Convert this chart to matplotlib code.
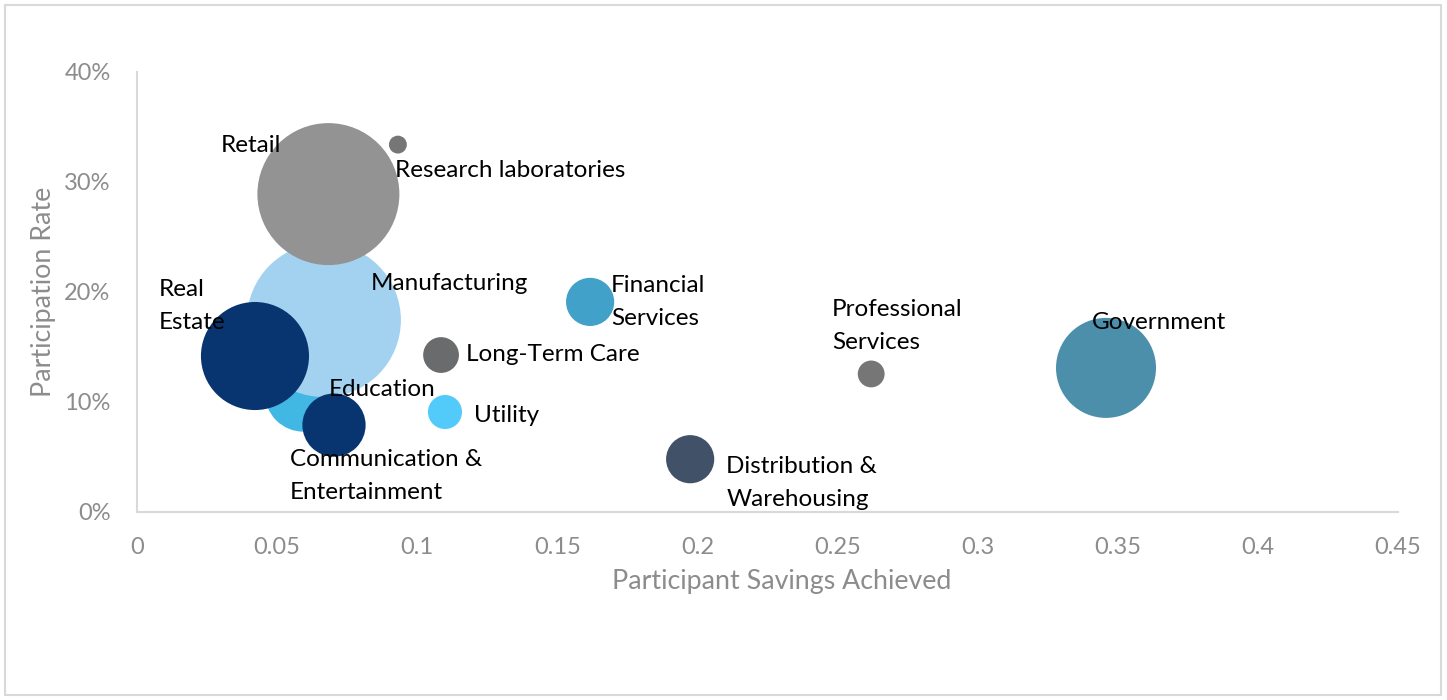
import matplotlib.pyplot as plt
from matplotlib.patches import Rectangle
from matplotlib.ticker import PercentFormatter

# Данные (порядок = порядок отрисовки, снизу вверх)
industries = ['Education', 'Manufacturing', 'Communication &\nEntertainment', 'Real\nEstate',
              'Retail', 'Research laboratories', 'Long-Term Care', 'Utility',
              'Financial\nServices', 'Distribution &\nWarehousing', 'Professional\nServices',
              'Government']
savings = [0.0594, 0.0667, 0.0703, 0.0421, 0.0683, 0.0931, 0.1085, 0.1099,
           0.1617, 0.1974, 0.2620, 0.3458]
participation = [0.108, 0.1745, 0.079, 0.1418, 0.289, 0.334, 0.1427, 0.0909,
                 0.191, 0.048, 0.1255, 0.131]
bubble_size = [148, 593, 100, 292, 504, 8, 32, 29, 58, 58, 18, 250]

colors = ['#41b8e4', '#a3d2f0', '#083570', '#083570', '#939393', '#767676', '#6a6b6d',
          '#52cbfa', '#41a1c8', '#415168', '#767676', '#4c8fab']
# смещения подписей в пикселях: (левый край текста, центр текста вниз от центра пузыря)
label_offsets = [(25, -4), (47, -37), (-44, 51), (-96, -50), (-108, -49), (-3, 26), (25, -1),
                 (29, 3), (21, 0), (36, 24), (-39, -48), (-14, -45)]

plt.rcParams['font.family'] = ['Lato', 'DejaVu Sans']

fig = plt.figure(figsize=(14.47, 7.0), dpi=100)
ax = fig.add_axes([137 / 1447, 188 / 700, 1261 / 1447, 440 / 700])

sizes = [v * 20.736 for v in bubble_size]
ax.scatter(savings, participation, s=sizes, c=colors, linewidths=0, zorder=2)

for name, x, y, (dx, dy) in zip(industries, savings, participation, label_offsets):
    ax.annotate(name, (x, y), xytext=(dx, -dy), textcoords='offset pixels',
                ha='left', va='center', fontsize=17.5, color='black',
                linespacing=1.68, zorder=3)

ax.set_xlim(0, 0.45)
ax.set_ylim(0, 0.40)
ax.set_xticks([0, 0.05, 0.1, 0.15, 0.2, 0.25, 0.3, 0.35, 0.4, 0.45])
ax.set_xticklabels(['0', '0.05', '0.1', '0.15', '0.2', '0.25', '0.3', '0.35', '0.4', '0.45'])
ax.set_yticks([0, 0.1, 0.2, 0.3, 0.4])
ax.yaxis.set_major_formatter(PercentFormatter(1.0, decimals=0))

grey = '#8c8c8c'
ax.tick_params(length=0, labelsize=17, labelcolor=grey)
ax.tick_params(axis='x', pad=18)
ax.tick_params(axis='y', pad=19)

for side in ['top', 'right']:
    ax.spines[side].set_visible(False)
for side in ['left', 'bottom']:
    ax.spines[side].set_color('#d9d9d9')
    ax.spines[side].set_linewidth(1.5)

ax.set_xlabel('Participant Savings Achieved', fontsize=19.3, color=grey)
ax.set_ylabel('Participation Rate', fontsize=19.3, color=grey)
ax.xaxis.set_label_coords(0.511, -0.13)
ax.yaxis.set_label_coords(-0.064, 0.5)

# рамка вокруг диаграммы
fig.patches.append(Rectangle((5 / 1447, 5 / 700), 1436 / 1447, 690 / 700,
                             transform=fig.transFigure, fill=False,
                             edgecolor='#d9d9d9', linewidth=1.5))

plt.savefig('out.png', dpi=100)
